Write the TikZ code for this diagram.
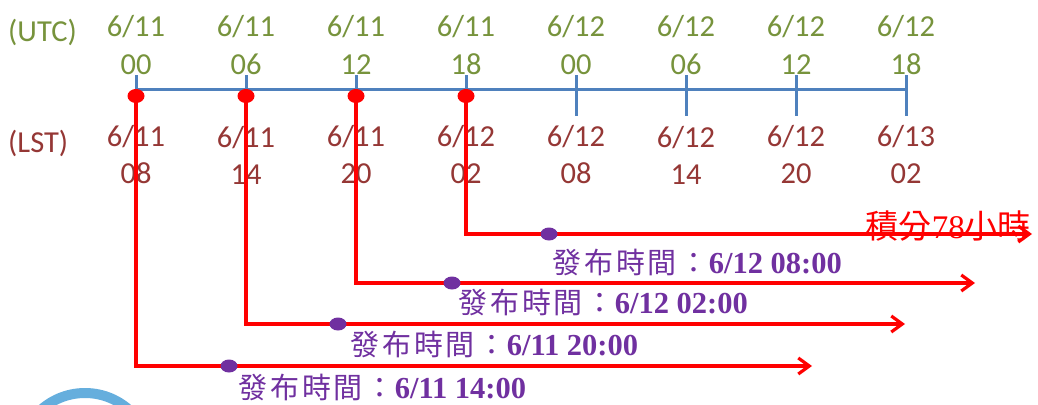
\documentclass[tikz,border=0pt]{standalone}
\usepackage{fontspec}
\setmainfont{Carlito}
\newfontfamily\cjk{Noto Sans CJK TC}
\newfontfamily\cjkwide[LetterSpace=10]{Noto Sans CJK TC}
\newfontfamily\tmsfont{Liberation Serif}
\usepackage{tikz}
\usetikzlibrary{arrows.meta,calc,positioning,shapes.geometric}
\definecolor{utc}{HTML}{77933C}
\definecolor{lst}{HTML}{953735}
\definecolor{axisblue}{HTML}{4F81BD}
\definecolor{runred}{HTML}{FF0000}
\definecolor{issue}{HTML}{7030A0}
\definecolor{ring}{HTML}{65AEDD}
\tikzset{
  timeline/.style={line width=3pt, draw=axisblue},
  tickmark/.style={line width=3pt, draw=axisblue},
  zone/.style={font=\fontsize{30.5}{38}\selectfont, anchor=west, inner sep=0pt},
  utcstamp/.style={text=utc, font=\fontsize{30.5}{38}\selectfont, align=center, inner sep=0pt},
  lststamp/.style={text=lst, font=\fontsize{30.5}{37}\selectfont, align=center, inner sep=0pt},
  start/.style={ellipse, fill=runred, minimum width=17pt, minimum height=14pt, inner sep=0pt},
  issued/.style={ellipse, fill=issue, minimum width=17pt, minimum height=13pt, inner sep=0pt},
  forecast/.style={line width=3.2pt, draw=runred, -{Straight Barb[length=11pt,width=16pt]}},
  release/.style={text=issue, font=\fontsize{29}{32}\selectfont, anchor=west, inner sep=0pt},
  total/.style={text=runred, font=\fontsize{33}{36}\selectfont, anchor=east, inner sep=0pt}
}
\newcommand{\issuetime}[1]{\cjkwide 發布時間：{\tmsfont\bfseries\fontsize{30.5}{32}\selectfont #1}}

\begin{document}
\begin{tikzpicture}[x=1pt,y=-1pt]
\path[use as bounding box] (0,0) rectangle (1038,404);
\fill[white] (0,0) rectangle (1038,404);

% logo ring cut by the lower edge
\begin{scope}
  \clip (0,0) rectangle (1038,404);
  \draw[ring, line width=10pt] (85,459) circle (66);
\end{scope}

\node[zone, text=utc] (utclab) at (8,32) {(UTC)};
\node[zone, text=lst] (lstlab) at (8,143) {(LST)};

\node[utcstamp] (u0) at (136,45) {6/11\\00};
\node[utcstamp] (u1) at (246,45) {6/11\\06};
\node[utcstamp] (u2) at (356,45) {6/11\\12};
\node[utcstamp] (u3) at (466,45) {6/11\\18};
\node[utcstamp] (u4) at (576,45) {6/12\\00};
\node[utcstamp] (u5) at (686,45) {6/12\\06};
\node[utcstamp] (u6) at (796,45) {6/12\\12};
\node[utcstamp] (u7) at (906,45) {6/12\\18};

\node[lststamp] (l0) at (136,155) {6/11\\08};
\node[lststamp] (l1) at (246,155) {6/11\\14};
\node[lststamp] (l2) at (356,155) {6/11\\20};
\node[lststamp] (l3) at (466,155) {6/12\\02};
\node[lststamp] (l4) at (576,155) {6/12\\08};
\node[lststamp] (l5) at (686,155) {6/12\\14};
\node[lststamp] (l6) at (796,155) {6/12\\20};
\node[lststamp] (l7) at (906,155) {6/13\\02};

\coordinate (t0) at (136,89);
\coordinate (t1) at (246,89);
\coordinate (t2) at (356,89);
\coordinate (t3) at (466,89);
\coordinate (t4) at (576,89);
\coordinate (t5) at (686,89);
\coordinate (t6) at (796,89);
\coordinate (t7) at (906,89);
\draw[timeline] (t0) -- (t7);
\draw[tickmark] (t0) ++(0,-14) -- ++(0,41);
\draw[tickmark] (t1) ++(0,-14) -- ++(0,41);
\draw[tickmark] (t2) ++(0,-14) -- ++(0,41);
\draw[tickmark] (t3) ++(0,-14) -- ++(0,41);
\draw[tickmark] (t4) ++(0,-14) -- ++(0,41);
\draw[tickmark] (t5) ++(0,-14) -- ++(0,41);
\draw[tickmark] (t6) ++(0,-14) -- ++(0,41);
\draw[tickmark] (t7) ++(0,-14) -- ++(0,41);

% model runs and their arrows
\coordinate (e0) at (812,366);
\coordinate (e1) at (905,324);
\coordinate (e2) at (975,283);
\coordinate (e3) at (1032,234);
\draw[forecast] (t0) |- (e0);
\draw[forecast] (t1) |- (e1);
\draw[forecast] (t2) |- (e2);
\draw[forecast] (t3) |- (e3);

\node[start] (r0) at (136,96) {};
\node[start] (r1) at (246,96) {};
\node[start] (r2) at (356,96) {};
\node[start] (r3) at (466,96) {};

\node[issued] (p0) at (229,366) {};
\node[issued] (p1) at (338,324) {};
\node[issued] (p2) at (452,283) {};
\node[issued] (p3) at (549,234) {};

\node[release] (s0) at (238,387) {\issuetime{6/11 14:00}};
\node[release] (s1) at (350,344) {\issuetime{6/11 20:00}};
\node[release] (s2) at (458,302) {\issuetime{6/12 02:00}};
\node[release] (s3) at (552,262) {\issuetime{6/12 08:00}};

\node[total] (hours) at (1031,226) {\cjk 積分{\tmsfont 78}小時};
\end{tikzpicture}
\end{document}
